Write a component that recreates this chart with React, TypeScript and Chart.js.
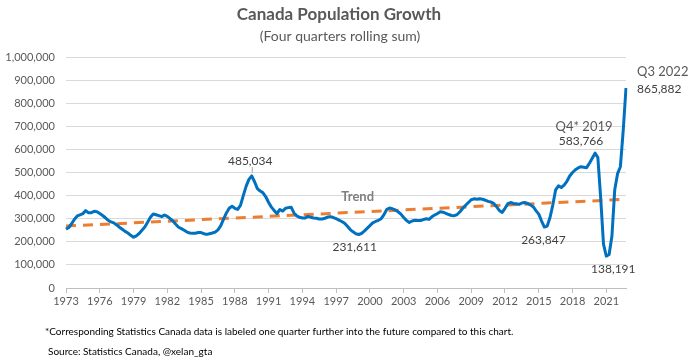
import React, { useEffect, useRef } from "react";
import { Chart, registerables } from "chart.js";

Chart.register(...registerables);

const FIRST_YEAR = 1973;
const TICK_EVERY = 12;

// Four-quarter rolling sum of population growth (persons), quarterly from 1973
const growth: number[] = [
  255000, 262000, 278000, 298000, 312000, 317000, 322000, 335000, 326000, 326000,
  332000, 330000, 322000, 314000, 304000, 293000, 286000, 282000, 273000, 263000,
  254000, 245000, 238000, 228000, 220000, 226000, 236000, 250000, 264000, 285000,
  306000, 320000, 317000, 313000, 309000, 316000, 310000, 300000, 290000, 276000,
  263000, 257000, 250000, 242000, 238000, 237000, 237000, 240000, 240000, 235000,
  232000, 235000, 238000, 242000, 252000, 270000, 298000, 325000, 345000, 354000,
  345000, 340000, 358000, 400000, 440000, 470000, 485034, 460000, 430000, 420000,
  412000, 395000, 370000, 350000, 335000, 322000, 340000, 333000, 345000, 348000,
  350000, 325000, 312000, 306000, 303000, 303000, 310000, 306000, 303000, 302000,
  299000, 299000, 302000, 307000, 309000, 305000, 300000, 294000, 288000, 280000,
  267000, 253000, 243000, 235000, 231611, 236000, 246000, 258000, 270000, 282000,
  288000, 293000, 300000, 318000, 340000, 346000, 343000, 338000, 330000, 320000,
  305000, 292000, 284000, 290000, 293000, 292000, 292000, 296000, 300000, 297000,
  308000, 316000, 322000, 330000, 328000, 323000, 318000, 314000, 313000, 318000,
  330000, 345000, 358000, 370000, 382000, 386000, 384000, 386000, 384000, 380000,
  375000, 372000, 366000, 352000, 335000, 327000, 345000, 365000, 370000, 366000,
  365000, 362000, 368000, 370000, 366000, 360000, 352000, 335000, 320000, 290000,
  263847, 268000, 305000, 360000, 425000, 442000, 435000, 445000, 462000, 485000,
  500000, 512000, 520000, 525000, 523000, 521000, 540000, 562000, 583766, 565000,
  390000, 190000, 138191, 145000, 225000, 425000, 495000, 525000, 680000, 865882,
];

// Linear trend line end points (start / end of series)
const trendEnds: number[] = [268000, 384000];

const labels: string[] = growth.map((_, i) =>
  i % TICK_EVERY === 0 ? String(FIRST_YEAR + i / 4) : ""
);

const titleText = "Canada Population Growth";
const subtitleText = "(Four quarters rolling sum)";
const footnoteText =
  "*Corresponding Statistics Canada data is labeled one quarter further into the future compared to this chart.";
const sourceText = "Source: Statistics Canada, @xelan_gta";

// annotations: [index, text lines]
const peakIdx = 66;
const low1Idx = 104;
const low2Idx = 170;
const preCovidIdx = 188;
const covidLowIdx = 192;
const lastIdx = growth.length - 1;

const fmt = (v: number) => Math.round(v).toLocaleString("en-US");
const FONT = "Lato, 'Open Sans', sans-serif";

const textPlugin = {
  id: "texts",
  afterDraw(chart: any) {
    const { ctx } = chart;
    const xs = chart.scales.x;
    const ys = chart.scales.y;
    const px = (i: number) => xs.getPixelForValue(i);
    const py = (v: number) => ys.getPixelForValue(v);
    ctx.save();
    ctx.textBaseline = "middle";

    // title & subtitle
    ctx.textAlign = "center";
    ctx.fillStyle = "#595959";
    ctx.font = `bold 17px ${FONT}`;
    ctx.fillText(titleText, 339, 15);
    ctx.font = `14px ${FONT}`;
    ctx.fillText(subtitleText, 340, 36);

    // data labels
    ctx.fillStyle = "#404040";
    ctx.font = `12px ${FONT}`;
    const pk = growth[peakIdx];
    ctx.fillText(fmt(pk), px(peakIdx) - 1.5, py(pk) - 15);
    ctx.strokeStyle = "#a6a6a6";
    ctx.lineWidth = 1;
    ctx.beginPath();
    ctx.moveTo(px(peakIdx) + 0.5, py(pk) - 9);
    ctx.lineTo(px(peakIdx) + 0.5, py(pk) - 3);
    ctx.stroke();

    const l1 = growth[low1Idx];
    ctx.fillText(fmt(l1), px(low1Idx) - 4, py(l1) + 13);
    const l2 = growth[low2Idx];
    ctx.fillText(fmt(l2), px(low2Idx) - 1, py(l2) + 13);
    const pc = growth[preCovidIdx];
    ctx.fillText(fmt(pc), px(preCovidIdx) - 14, py(pc) - 12);
    const cl = growth[covidLowIdx];
    ctx.fillText(fmt(cl), px(covidLowIdx) + 7, py(cl) + 13);

    ctx.fillStyle = "#595959";
    ctx.font = `13px ${FONT}`;
    ctx.fillText("Q4* 2019", px(preCovidIdx) - 11, py(pc) - 26);

    const last = growth[lastIdx];
    ctx.textAlign = "left";
    ctx.fillText("Q3 2022", px(lastIdx) + 11, py(last) - 16);
    ctx.fillStyle = "#404040";
    ctx.font = `12px ${FONT}`;
    ctx.fillText(fmt(last), px(lastIdx) + 11, py(last) + 1);

    // Trend label
    ctx.textAlign = "center";
    ctx.fillStyle = "#7f7f7f";
    ctx.font = `bold 13px ${FONT}`;
    const tv = trendEnds[0] + ((trendEnds[1] - trendEnds[0]) * low1Idx) / lastIdx;
    ctx.fillText("Trend", px(low1Idx) - 1, py(tv) - 15);

    // footer
    ctx.textAlign = "left";
    ctx.fillStyle = "#000000";
    ctx.font = `10px ${FONT}`;
    ctx.fillText(footnoteText, 45, 332, 470);
    ctx.fillText(sourceText, 48, 352, 170);
    ctx.restore();
  },
};

export default function App() {
  const ref = useRef<HTMLCanvasElement | null>(null);
  useEffect(() => {
    if (!ref.current) return;
    const trendData: (number | null)[] = growth.map(() => null);
    trendData[0] = trendEnds[0];
    trendData[lastIdx] = trendEnds[1];
    const chart = new Chart(ref.current, {
      type: "line",
      data: {
        labels,
        datasets: [
          {
            label: "Trend",
            data: trendData,
            borderColor: "#ED7D31",
            borderWidth: 3,
            borderDash: [10, 7],
            pointRadius: 0,
            spanGaps: true,
            fill: false,
            order: 2,
          },
          {
            label: "Growth",
            data: growth,
            borderColor: "#0070C0",
            borderWidth: 3,
            pointRadius: 0,
            tension: 0,
            fill: false,
            borderJoinStyle: "round",
            order: 1,
          },
        ],
      },
      options: {
        responsive: false,
        animation: false,
        devicePixelRatio: 1,
        layout: { padding: { left: 0, right: 71, top: 57, bottom: 0 } },
        plugins: {
          legend: { display: false },
          title: { display: false },
          tooltip: { enabled: false },
        },
        scales: {
          x: {
            type: "category",
            offset: false,
            afterFit: (s: any) => {
              s.height = 76;
            },
            grid: {
              display: true,
              drawOnChartArea: false,
              drawTicks: true,
              tickLength: 5,
              color: (c: any) =>
                c.index % TICK_EVERY === 0 ? "#bfbfbf" : "rgba(0,0,0,0)",
            },
            border: { display: true, color: "#bfbfbf", width: 1 },
            ticks: {
              autoSkip: false,
              maxRotation: 0,
              minRotation: 0,
              padding: 2,
              color: "#595959",
              font: { family: FONT, size: 11 },
              callback: (_v: any, i: number) => labels[i],
            },
          },
          y: {
            min: 0,
            max: 1000000,
            afterFit: (s: any) => {
              s.width = 66;
            },
            grid: { color: "#d9d9d9", drawTicks: false },
            border: { display: false },
            ticks: {
              stepSize: 100000,
              padding: 11,
              color: "#595959",
              font: { family: FONT, size: 11 },
              callback: (v: any) => Number(v).toLocaleString("en-US"),
            },
          },
        },
      },
      plugins: [textPlugin],
    });
    return () => chart.destroy();
  }, []);
  return (
    <div
      style={{
        position: "fixed",
        left: 0,
        top: 0,
        width: 697,
        height: 364,
        background: "#ffffff",
      }}
    >
      <canvas ref={ref} width={697} height={364} style={{ display: "block" }} />
    </div>
  );
}
